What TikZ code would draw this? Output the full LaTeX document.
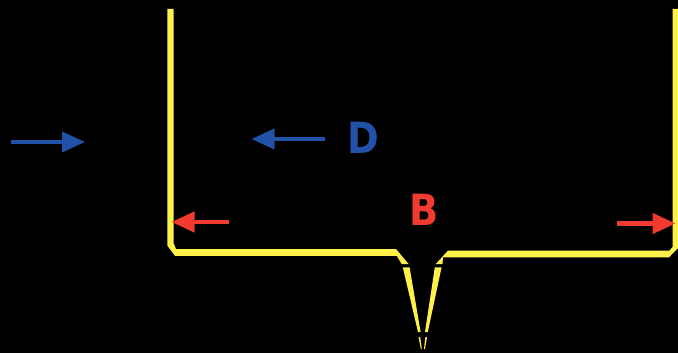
\documentclass[tikz,border=0pt]{standalone}
\usepackage{fontspec}
\setmainfont{DejaVu Sans}
\usetikzlibrary{arrows.meta}
\definecolor{wallY}{HTML}{FFF04A}
\definecolor{arrB}{HTML}{2152A8}
\definecolor{arrR}{HTML}{F23B30}
\tikzset{
  wall/.style={fill=wallY,draw=none},
  flow/.style={line width=#1,-{Triangle[length=23pt,width=20pt]}},
  lab/.style={font=\bfseries\fontsize{43}{43}\selectfont,inner sep=0pt,anchor=center,xscale=0.89}
}
\begin{document}
\begin{tikzpicture}[x=1pt,y=-1pt]
\useasboundingbox (0,0) rectangle (678,353);
\fill[black] (0,0) rectangle (678,353);
% vessel wall, left part
\fill[wall] (167.3,9) -- (173.7,9) -- (173.7,243.5) -- (176,249) -- (396,249) -- (408.5,264) -- (401.7,264) -- (396.7,255.8) -- (175,255.8) -- (167.3,245.5) -- cycle;
% vessel wall, right part
\fill[wall] (672.5,9) -- (678,9) -- (678,248) -- (669,257.3) -- (443,257.3) -- (442.5,264) -- (435.8,264) -- (448,250.6) -- (669.5,250.6) -- (672.5,247) -- cycle;
% nozzle
\fill[wall] (402.8,267.3) -- (409.6,267.3) -- (420.6,332) -- (418,332) -- cycle;
\fill[wall] (434.8,267.3) -- (441.6,267.3) -- (427.8,332) -- (425,332) -- cycle;
\fill[wall] (418.6,337) -- (420.2,337) -- (421.8,349) -- (420.8,349) -- cycle;
\fill[wall] (425.4,337) -- (427,337) -- (425,349) -- (424,349) -- cycle;
% arrows
\coordinate (b1s) at (10.5,142); \coordinate (b1e) at (85,142);
\coordinate (b2s) at (325,139); \coordinate (b2e) at (251.5,139);
\coordinate (r1s) at (229,222); \coordinate (r1e) at (171.5,222);
\coordinate (r2s) at (617,223.5); \coordinate (r2e) at (675.5,223.5);
\draw[flow=4pt,arrB] (b1s) -- (b1e);
\draw[flow=4pt,arrB] (b2s) -- (b2e);
\draw[flow=4.5pt,arrR] (r1s) -- (r1e);
\draw[flow=4.5pt,arrR] (r2s) -- (r2e);
\node[lab,text=arrB] (D) at (363,137.5) {D};
\node[lab,text=arrR] (B) at (424.5,209.5) {B};
\end{tikzpicture}
\end{document}
